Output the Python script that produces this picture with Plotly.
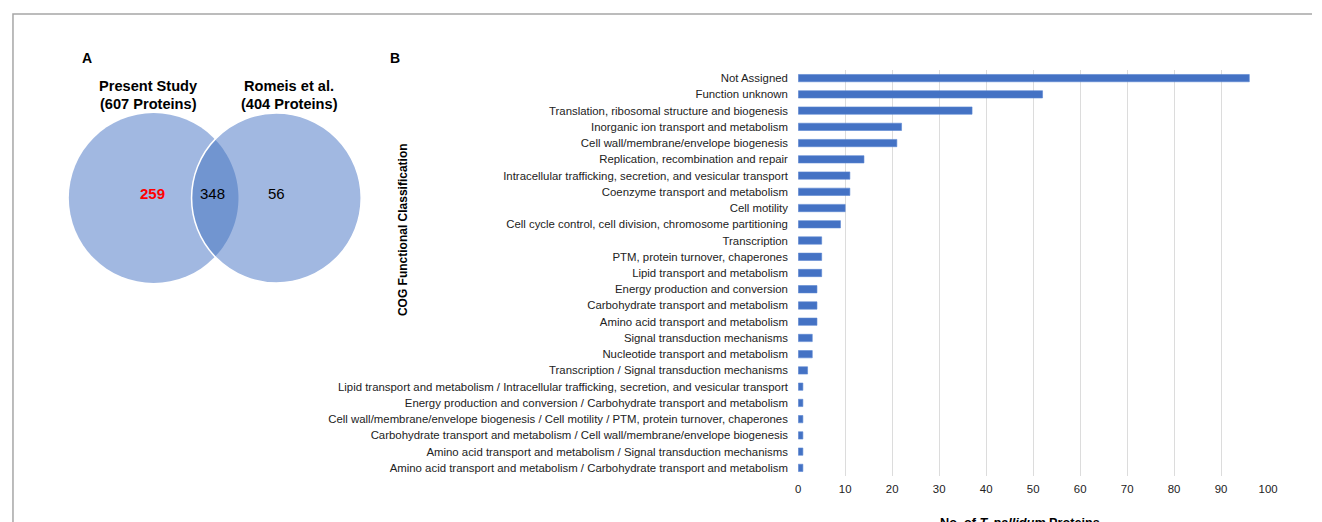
import math
import plotly.graph_objects as go

# COG functional classes (top to bottom) and protein counts
categories = [
    "Not Assigned",
    "Function unknown",
    "Translation, ribosomal structure and biogenesis",
    "Inorganic ion transport and metabolism",
    "Cell wall/membrane/envelope biogenesis",
    "Replication, recombination and repair",
    "Intracellular trafficking, secretion, and vesicular transport",
    "Coenzyme transport and metabolism",
    "Cell motility",
    "Cell cycle control, cell division, chromosome partitioning",
    "Transcription",
    "PTM, protein turnover, chaperones",
    "Lipid transport and metabolism",
    "Energy production and conversion",
    "Carbohydrate transport and metabolism",
    "Amino acid transport and metabolism",
    "Signal transduction mechanisms",
    "Nucleotide transport and metabolism",
    "Transcription / Signal transduction mechanisms",
    "Lipid transport and metabolism / Intracellular trafficking, secretion, and vesicular transport",
    "Energy production and conversion / Carbohydrate transport and metabolism",
    "Cell wall/membrane/envelope biogenesis / Cell motility / PTM, protein turnover, chaperones",
    "Carbohydrate transport and metabolism / Cell wall/membrane/envelope biogenesis",
    "Amino acid transport and metabolism / Signal transduction mechanisms",
    "Amino acid transport and metabolism / Carbohydrate transport and metabolism",
]
counts = [96, 52, 37, 22, 21, 14, 11, 11, 10, 9, 5, 5, 5, 4, 4, 4, 3, 3, 2, 1, 1, 1, 1, 1, 1]
x_ticks = [0, 10, 20, 30, 40, 50, 60, 70, 80, 90, 100]

# Venn diagram sets and counts
venn_names = ["Present Study", "Romeis et al."]
venn_totals = ["(607 Proteins)", "(404 Proteins)"]
only_present = 259
shared = 348
only_romeis = 56

W, H = 1322, 522
# usable drawing width once the page's vertical scrollbar is taken into account
W_EFF = 1312
FONT = "Liberation Sans, Arial, sans-serif"
BAR_BLUE = "#4472C4"
LIGHT = "rgb(161,184,225)"
DARK = "rgb(113,149,208)"

fig = go.Figure()

fig.add_trace(go.Bar(
    x=counts, y=categories, orientation="h",
    marker=dict(color=BAR_BLUE, line=dict(color="#5b86d1", width=0.6)),
    xaxis="x", yaxis="y", showlegend=False, hoverinfo="x+y",
))

# pixel-space axes spanning the whole page, for the Venn diagram and free text
fig.add_trace(go.Scatter(x=[0], y=[0], mode="markers", marker=dict(opacity=0),
                         xaxis="x2", yaxis="y2", showlegend=False, hoverinfo="skip"))

# Venn geometry (pixel space)
cy, r = 198.0, 85.0
cx1, cx2 = 151.0, 274.0

def circle(cx, cy, r, **kw):
    return dict(type="circle", xref="x2", yref="y2",
                x0=cx - r, x1=cx + r, y0=cy - r, y1=cy + r, layer="below", **kw)

# lens of the overlap
d = cx2 - cx1
a = d / 2.0
h = math.sqrt(r * r - a * a)
ang = math.atan2(h, a)
pts = []
n = 60
for i in range(n + 1):
    t = -ang + 2 * ang * i / n
    pts.append((cx1 + r * math.cos(t), cy + r * math.sin(t)))
for i in range(n + 1):
    t = math.pi + ang - 2 * ang * i / n
    pts.append((cx2 + r * math.cos(t), cy + r * math.sin(t)))
lens_path = "M " + " L ".join(f"{x:.2f},{y:.2f}" for x, y in pts) + " Z"

shapes = [
    # outer frame
    dict(type="rect", xref="x2", yref="y2", x0=10, x1=1400, y0=14, y1=600,
         line=dict(color="#a6a6a6", width=1.5), fillcolor="rgba(0,0,0,0)", layer="below"),
    circle(cx1, cy, r, fillcolor=LIGHT, line=dict(width=0)),
    circle(cx2, cy, r, fillcolor=LIGHT, line=dict(width=0)),
    dict(type="path", xref="x2", yref="y2", path=lens_path, fillcolor=DARK,
         line=dict(width=0), layer="below"),
    circle(cx2, cy, r, fillcolor="rgba(0,0,0,0)", line=dict(color="white", width=1.5)),
]

def txt(x, y, text, size, color="black", bold=False, **kw):
    t = f"<b>{text}</b>" if bold else text
    return dict(xref="x2", yref="y2", x=x, y=y, text=t, showarrow=False,
                font=dict(family=FONT, size=size, color=color), **kw)

annotations = [
    txt(84, 58, "A", 14, bold=True),
    txt(393, 58, "B", 14, bold=True),
    txt(146, 86, venn_names[0], 14.6, bold=True),
    txt(146, 103.5, venn_totals[0], 14.6, bold=True),
    txt(287, 86, venn_names[1], 14.6, bold=True),
    txt(287, 103.5, venn_totals[1], 14.6, bold=True),
    txt(150, 193, str(only_present), 15, color="#ff0000", bold=True),
    txt(210, 193, str(shared), 15),
    txt(274, 193, str(only_romeis), 15),
    txt(401, 230, "COG Functional Classification", 12, bold=True, textangle=-90),
    txt(1019, 520, "No. of <i>T. pallidum</i> Proteins", 12.7, bold=True, yshift=-3),
]

x0p, x1p = 797 / W_EFF, 1268 / W_EFF
ytop, ybot = 70, 476

fig.update_layout(
    width=W, height=H, autosize=False,
    margin=dict(l=0, r=0, t=0, b=0),
    paper_bgcolor="white", plot_bgcolor="rgba(0,0,0,0)",
    font=dict(family=FONT, size=11.4, color="#222222"),
    bargap=0.55,
    xaxis=dict(domain=[x0p, x1p], range=[0, 100], tickvals=x_ticks,
               showgrid=True, gridcolor="#dcdcdc", gridwidth=1, zeroline=False,
               showline=False, ticks="outside", ticklen=2, tickcolor="rgba(0,0,0,0)",
               tickfont=dict(family=FONT, size=11.4, color="#222222"), fixedrange=True,
               anchor="y"),
    yaxis=dict(domain=[1 - ybot / H, 1 - ytop / H], categoryorder="array",
               categoryarray=categories, autorange="reversed", showgrid=False,
               zeroline=False, showline=False, ticks="outside", ticklen=7,
               tickcolor="rgba(0,0,0,0)",
               tickfont=dict(family=FONT, size=11.4, color="#222222"), fixedrange=True,
               anchor="x"),
    xaxis2=dict(domain=[0, 1], range=[0, W_EFF], visible=False,
                anchor="y2", fixedrange=True),
    yaxis2=dict(domain=[0, 1], range=[H, 0], visible=False,
                anchor="x2", fixedrange=True),
    shapes=shapes,
    annotations=annotations,
)

fig.write_html("out.html")
